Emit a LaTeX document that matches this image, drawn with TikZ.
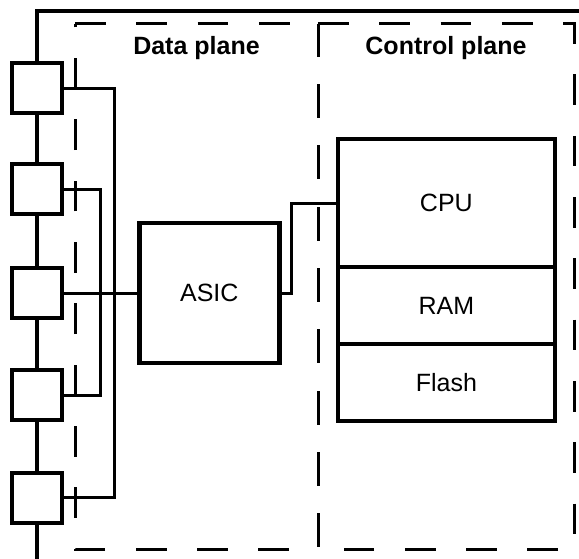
\documentclass[tikz,border=0pt]{standalone}
\usepackage{fontspec}
\setmainfont{Liberation Sans}
\usetikzlibrary{positioning}

\begin{document}
\begin{tikzpicture}[
  x=1pt, y=-1pt,
  port/.style={draw,fill=white,line width=4pt,minimum size=50pt,inner sep=0pt,outer sep=0pt},
  chip/.style={draw,line width=4.5pt,minimum width=140pt,minimum height=140pt,inner sep=0pt,outer sep=0pt,font=\fontsize{25}{30}\selectfont},
  part/.style={draw,line width=4pt,minimum width=216.7pt,inner sep=0pt,outer sep=0pt,font=\fontsize{25}{30}\selectfont},
  plane/.style={line width=3pt,dash pattern=on 30.65pt off 30.65pt},
  title/.style={font=\bfseries\fontsize{25}{30}\selectfont,anchor=base},
  wire/.style={line width=3pt}]
  \useasboundingbox (0,0) rectangle (579,559);
  % chassis
  \draw[line width=4pt] (36.5,570) -- (36.5,11.5) -- (590,11.5);
  % planes
  \draw[plane] (75,24) -- (318,24) -- (318,549) -- (75,549) -- cycle;
  \draw[plane] (318,24) -- (574,24) -- (574,549) -- (318,549) -- cycle;
  \node[title] (dp) at (196.5,54.5) {Data plane};
  \node[title] (cp) at (446,54.5) {Control plane};
  % ports
  \foreach \y [count=\i] in {88.5,189.5,293,395,497.5}
    \node[port] (p\i) at (36.5,\y) {};
  % asic and cpu board
  \node[chip] (asic) at (209.25,293) {ASIC};
  \node[part,minimum height=127.5pt] (cpu) at (446.35,203.25) {CPU};
  \node[part,minimum height=77pt,below=0pt of cpu] (ram) {RAM};
  \node[part,minimum height=77pt,below=0pt of ram] (flash) {Flash};
  % wires
  \draw[wire] (p1.east) -- ++(52.5,0) |- (p5.east);
  \draw[wire] (p2.east) -- ++(39,0) |- (p4.east);
  \draw[wire] (p3.east) -- (asic.west);
  \draw[wire] (asic.east) -- ++(12,0) |- (cpu.west);
\end{tikzpicture}
\end{document}
